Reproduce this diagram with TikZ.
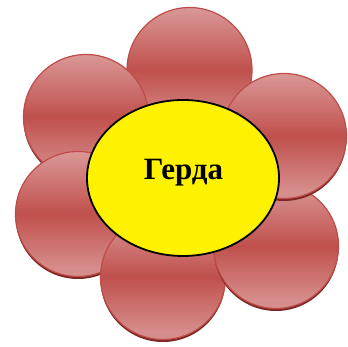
\documentclass[tikz,border=0pt]{standalone}
\usepackage{fontspec}
\setmainfont{Liberation Serif}
\usepackage{tikz}
\usetikzlibrary{shapes.geometric}
\definecolor{petalhi}{RGB}{218,152,150}
\definecolor{petalmid}{RGB}{192,80,77}
\definecolor{petallo}{RGB}{214,142,140}
\definecolor{petalrim}{RGB}{190,76,73}
\definecolor{petaldark}{RGB}{125,38,36}
\pgfdeclareverticalshading{petalshade}{100bp}{color(0bp)=(petallo); color(28bp)=(petallo); color(50bp)=(petalmid); color(75bp)=(petalhi); color(100bp)=(petalhi)}

\begin{document}
\begin{tikzpicture}[x=1pt,y=1pt,
  petal/.style={circle,draw=petalrim,line width=1.2pt,shading=petalshade,minimum size=125pt,inner sep=0pt},
  rim/.style={circle,fill=petaldark,minimum size=125pt,inner sep=0pt,yshift=-2.5pt},
  core/.style={ellipse,draw,line width=1.8pt,fill=yellow,minimum width=192pt,minimum height=156pt,inner sep=0pt},
  corelabel/.style={font=\bfseries\fontsize{31}{31}\selectfont}]
\useasboundingbox (0,0) rectangle (348,347);
% petals, back to front
\foreach \x/\y [count=\i] in {189.5/277,86/230,78/133,163/70,276/101,284/211}{
  \node[rim] (r\i) at (\x,\y) {};
  \node[petal] (p\i) at (\x,\y) {};
}
\node[core] (c) at (183,169) {};
\node[corelabel] (t) at (183.5,174) {Герда};
\end{tikzpicture}
\end{document}
